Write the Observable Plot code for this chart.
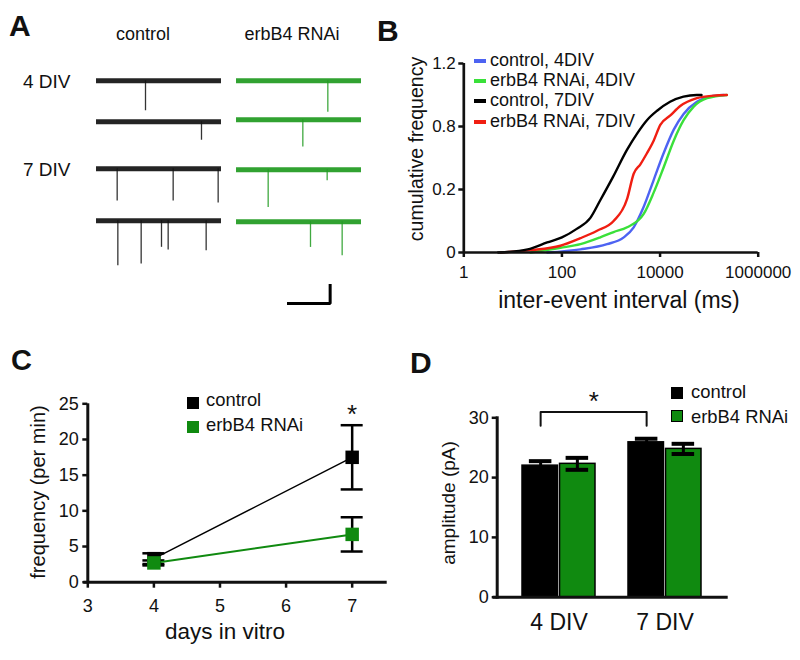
<!DOCTYPE html>
<html><head><meta charset="utf-8">
<script src="https://cdn.jsdelivr.net/npm/d3@7"></script>
<script src="https://cdn.jsdelivr.net/npm/@observablehq/plot@0.6"></script>
<style>
body{margin:0;background:#fff;}
#fig{position:relative;width:800px;height:660px;overflow:hidden;background:#fff;font-family:"Liberation Sans",Arial,Helvetica,sans-serif;color:#111;}
.t{position:absolute;white-space:nowrap;line-height:1;}
.sw{position:absolute;}
</style></head><body><div id="fig"></div>
<script>
// ================= DATA =================
// Panel A: example traces (events: [time in ms, amplitude in pA])
const aConditions = ["control", "erbB4 RNAi"];
const aRowLabels = ["4 DIV", "7 DIV"];
const aTraceMs = 1500;
const aControlEvents = [
  [[588, 16.7]],
  [[1260, 10.3]],
  [[248, 18], [920, 18], [1460, 19]],
  [[256, 25], [536, 24], [780, 14.8], [860, 16.3], [1316, 16.7]]
];
const aRnaiEvents = [
  [[1096, 17.6]],
  [[796, 15.2]],
  [[380, 21], [1088, 6.1]],
  [[888, 14.3], [1268, 18.9]]
];
const aScaleBarMs = 500, aScaleBarPA = 10;

// Panel B: cumulative distributions of inter-event interval
const bSeries = ["control, 4DIV", "erbB4 RNAi, 4DIV", "control, 7DIV", "erbB4 RNAi, 7DIV"];
const bControl4Ms  = [50, 238, 830, 1820, 2900, 4640, 7400, 11800, 19000, 30200, 56400, 105000, 200000];
const bControl4Cum = [0, 0.02, 0.053, 0.096, 0.16, 0.29, 0.46, 0.63, 0.78, 0.88, 0.957, 0.99, 1.0];
const bRnai4Ms  = [23, 93, 238, 605, 1130, 2130, 4640, 7400, 11800, 19000, 30200, 48000, 91000, 230000];
const bRnai4Cum = [0, 0.03, 0.053, 0.096, 0.13, 0.16, 0.245, 0.38, 0.54, 0.71, 0.84, 0.925, 0.98, 1.0];
const bControl7Ms  = [5, 20, 50, 100, 200, 380, 600, 1100, 2100, 3400, 5400, 8700, 16000, 30000, 56000, 70000];
const bControl7Cum = [0, 0.02, 0.064, 0.096, 0.15, 0.22, 0.33, 0.48, 0.65, 0.755, 0.84, 0.90, 0.957, 0.99, 1.0, 1.0];
const bRnai7Ms  = [5.6, 23, 93, 238, 520, 1130, 2130, 2900, 3970, 5400, 7400, 10100, 16200, 25800, 56400, 123000, 230000];
const bRnai7Cum = [0, 0.015, 0.043, 0.091, 0.138, 0.2, 0.34, 0.5, 0.56, 0.63, 0.71, 0.81, 0.87, 0.93, 0.98, 0.996, 1.0];
const bXTicks = [1, 100, 10000, 1000000];
const bYTicks = [0, 0.4, 0.8, 1.2];
const bYTickLabels = ["0", "0.2", "0.8", "1.2"];

// Panel C: frequency vs days in vitro (mean ± SEM)
const cDays = [4, 7];
const cControlMean = [3.3, 17.5];
const cControlSem  = [0.75, 4.5];
const cRnaiMean = [2.7, 6.7];
const cRnaiSem  = [0.35, 2.4];
const cXTicks = [3, 4, 5, 6, 7];
const cYTicks = [0, 5, 10, 15, 20, 25];
const cSignificantDay = 7;

// Panel D: amplitude (mean ± SEM)
const dGroups = ["4 DIV", "7 DIV"];
const dControlMean = [22.0, 25.9];
const dControlSem  = [0.75, 0.6];
const dRnaiMean = [22.3, 24.8];
const dRnaiSem  = [1.0, 0.85];
const dYTicks = [0, 10, 20, 30];

const conditions = ["control", "erbB4 RNAi"];

// ================= STYLE =================
const FONT = '"Liberation Sans", Arial, Helvetica, sans-serif';
const bColors = ["#4d63f2", "#3ae03a", "#000000", "#f01e12"];
const BLACK = "#000";
const GREEN = "#108a10";
const TRACE_GREEN = "#1f9a1f";

const fig = document.getElementById("fig");
function place(el, left, top) {
  el.style.position = "absolute";
  el.style.left = left + "px";
  el.style.top = top + "px";
  fig.appendChild(el);
  return el;
}
function label(str, x, y, {size = 18, weight = "normal", anchor = "start", rotate = 0} = {}) {
  const s = document.createElement("div");
  s.className = "t";
  s.textContent = str;
  s.style.fontSize = size + "px";
  s.style.fontWeight = weight;
  s.style.left = x + "px";
  s.style.top = y + "px";
  const tx = anchor === "middle" ? "-50%" : anchor === "end" ? "-100%" : "0";
  s.style.transform = `translate(${tx},-50%)` + (rotate ? ` rotate(${rotate}deg)` : "");
  fig.appendChild(s);
  return s;
}
function swatch(x, y, w, h, color, border) {
  const d = document.createElement("div");
  d.className = "sw";
  d.style.left = x + "px"; d.style.top = y + "px";
  d.style.width = w + "px"; d.style.height = h + "px";
  d.style.background = color;
  d.style.boxSizing = "border-box";
  if (border) d.style.border = border;
  fig.appendChild(d);
}
const baseStyle = (size) => ({fontFamily: FONT, fontSize: size + "px", color: "#111", background: "transparent", overflow: "visible"});

// ================= PANEL A =================
const aPxPerMs = 125 / aTraceMs, aPxPerPA = 1.8;
const aColLeft = [96, 236];
const aBaselines = [[80, 120.7, 167.7, 220], [80, 119.3, 169, 221]];
function tracePlot(events, color, left, baseline) {
  const topPA = 4, botPA = 30;
  const rows = events.map(([t, amp]) => ({t, amp}));
  const svg = Plot.plot({
    width: 125 + 4, height: (topPA + botPA) * aPxPerPA,
    marginLeft: 2, marginRight: 2, marginTop: 0, marginBottom: 0,
    x: {domain: [0, aTraceMs], axis: null},
    y: {domain: [-botPA, topPA], axis: null},
    style: baseStyle(12),
    marks: [
      Plot.ruleX(rows, {x: "t", y1: () => 0, y2: d => -d.amp, stroke: color, strokeWidth: 1.3, strokeOpacity: 0.85}),
      Plot.ruleY([0], {stroke: color, strokeWidth: 5, strokeOpacity: 0.92})
    ]
  });
  place(svg, left - 2, baseline - topPA * aPxPerPA);
}
aControlEvents.forEach((ev, i) => tracePlot(ev, "#111", aColLeft[0], aBaselines[0][i]));
aRnaiEvents.forEach((ev, i) => tracePlot(ev, TRACE_GREEN, aColLeft[1], aBaselines[1][i]));
{
  const sb = [{t: 0, i: 0}, {t: aScaleBarMs, i: 0}, {t: aScaleBarMs, i: aScaleBarPA}];
  const svg = Plot.plot({
    width: aScaleBarMs * aPxPerMs + 4, height: aScaleBarPA * aPxPerPA + 4,
    marginLeft: 2, marginRight: 2, marginTop: 2, marginBottom: 2,
    x: {domain: [0, aScaleBarMs], axis: null},
    y: {domain: [0, aScaleBarPA], axis: null},
    style: baseStyle(12),
    marks: [Plot.line(sb, {x: "t", y: "i", stroke: "#000", strokeWidth: 3, strokeLinejoin: "miter", strokeLinecap: "square"})]
  });
  place(svg, 288.3 - 2, 285 - 2);
}
label("A", 9, 26.3, {size: 30, weight: "bold"});
label(aConditions[0], 143, 33.8, {size: 18, anchor: "middle"});
label(aConditions[1], 292, 33.8, {size: 18, anchor: "middle"});
label(aRowLabels[0], 23, 80.7, {size: 19});
label(aRowLabels[1], 23, 169.4, {size: 19});

// ================= PANEL B =================
{
  const seriesData = [
    [bControl4Ms, bControl4Cum], [bRnai4Ms, bRnai4Cum], [bControl7Ms, bControl7Cum], [bRnai7Ms, bRnai7Cum]
  ].map(([ms, cum], k) => ms.map((m, i) => ({series: bSeries[k], interval: m, cum: cum[i]})));
  const drawOrder = [0, 1, 3, 2];
  const svg = Plot.plot({
    width: 420, height: 320,
    marginLeft: 83.3, marginRight: 42.3, marginTop: 63, marginBottom: 68,
    x: {type: "log", domain: [1, 1e6]},
    y: {domain: [0, 1.2]},
    color: {domain: bSeries, range: bColors},
    style: baseStyle(17),
    marks: [
      ...drawOrder.map(k => Plot.line(seriesData[k], {x: "interval", y: "cum", stroke: "series", strokeWidth: 2.4, curve: "monotone-x"})),
      Plot.ruleY([0], {strokeWidth: 2.7}),
      Plot.ruleX([1], {strokeWidth: 2.7}),
      Plot.axisX({ticks: bXTicks, tickFormat: d => String(d), tickSize: 5, tickPadding: 8, strokeWidth: 2.5, label: null}),
      Plot.axisY({ticks: bYTicks, tickFormat: d => bYTickLabels[bYTicks.indexOf(d)], tickSize: 5, tickPadding: 3, strokeWidth: 2.5, label: null})
    ]
  });
  place(svg, 380, 0);
  label("B", 377, 31.3, {size: 30, weight: "bold"});
  label("cumulative frequency", 416.7, 149, {size: 19.5, anchor: "middle", rotate: -90});
  label("inter-event interval (ms)", 619, 300.3, {size: 23, anchor: "middle"});
  const ly = [61, 80.5, 101, 121.8];
  bSeries.forEach((s, k) => {
    swatch(474, ly[k] - 2, 12, 4, bColors[k]);
    label(s, 490, ly[k] - 1, {size: 18});
  });
}

// ================= PANEL C =================
{
  const rows = (mean, sem, cond) => cDays.map((d, i) => ({day: d, cond, mean: mean[i], lo: mean[i] - sem[i], hi: mean[i] + sem[i]}));
  const ctrl = rows(cControlMean, cControlSem, conditions[0]);
  const rnai = rows(cRnaiMean, cRnaiSem, conditions[1]);
  const errMarks = (data, color) => [
    Plot.ruleX(data, {x: "day", y1: "lo", y2: "hi", stroke: color, strokeWidth: 2.5}),
    Plot.ruleY(data, {x1: "day", x2: "day", y: "hi", stroke: color, strokeWidth: 2.5, insetLeft: -11, insetRight: -11}),
    Plot.ruleY(data, {x1: "day", x2: "day", y: "lo", stroke: color, strokeWidth: 2.5, insetLeft: -11, insetRight: -11})
  ];
  const svg = Plot.plot({
    width: 400, height: 340,
    marginLeft: 87.3, marginRight: 13.3, marginTop: 83.3, marginBottom: 78.3,
    x: {domain: [3, 7.53]},
    y: {domain: [0, 25]},
    style: baseStyle(18),
    marks: [
      ...errMarks(ctrl, BLACK),
      ...errMarks(rnai, BLACK),
      Plot.line(ctrl, {x: "day", y: "mean", stroke: BLACK, strokeWidth: 1.5}),
      Plot.line(rnai, {x: "day", y: "mean", stroke: GREEN, strokeWidth: 2}),
      Plot.dot(ctrl, {x: "day", y: "mean", symbol: "square", r: 7.6, fill: BLACK, stroke: "none"}),
      Plot.dot(rnai, {x: "day", y: "mean", symbol: "square", r: 7.6, fill: GREEN, stroke: "none"}),
      Plot.text(ctrl.filter(d => d.day === cSignificantDay), {x: "day", y: "hi", text: () => "*", fontSize: 26, dy: -10.5}),
      Plot.ruleY([0], {strokeWidth: 3, insetLeft: -4}),
      Plot.ruleX([3], {strokeWidth: 3}),
      Plot.axisX({ticks: cXTicks, tickFormat: d => String(d), tickSize: 6, tickPadding: 11, strokeWidth: 2.5, label: null}),
      Plot.axisY({ticks: cYTicks, tickFormat: d => String(d), tickSize: 5, tickPadding: 4, strokeWidth: 2.5, label: null})
    ]
  });
  place(svg, 0, 320);
  label("C", 11, 359.6, {size: 29, weight: "bold"});
  label("frequency (per min)", 38.3, 492, {size: 20, anchor: "middle", rotate: -90});
  label("days in vitro", 225, 632, {size: 22.5, anchor: "middle"});
  swatch(186.5, 397, 12.5, 12, BLACK);
  swatch(186.5, 421, 12.5, 12, GREEN);
  label(conditions[0], 206, 400.3, {size: 18.4});
  label(conditions[1], 206, 425.3, {size: 18.4});
}

// ================= PANEL D =================
{
  const rows = (mean, sem, cond) => dGroups.map((g, i) => ({div: g, cond, mean: mean[i], lo: mean[i] - sem[i], hi: mean[i] + sem[i]}));
  const ctrl = rows(dControlMean, dControlSem, conditions[0]);
  const rnai = rows(dRnaiMean, dRnaiSem, conditions[1]);
  const W = 400, ML = 96.7, MR = 73.3, PI = 0.31, PO = 0.235;
  const step = (W - ML - MR) / (dGroups.length - PI + 2 * PO);
  const bw = step * (1 - PI), half = bw / 2, off = bw / 4;
  const capHalf = 11.5;
  const bracketTop = d3.max(ctrl, d => d.hi) + 4.45, bracketLeg = 2.3;
  const bracket = [
    {div: dGroups[0], y: bracketTop - bracketLeg}, {div: dGroups[0], y: bracketTop},
    {div: dGroups[1], y: bracketTop}, {div: dGroups[1], y: bracketTop - bracketLeg}
  ];
  const errMarks = (data, center) => [
    Plot.ruleX(data, {x: "div", y1: "lo", y2: "hi", dx: center, stroke: BLACK, strokeWidth: 3}),
    Plot.tickY(data, {x: "div", y: "hi", stroke: BLACK, strokeWidth: 4, insetLeft: half + center - capHalf, insetRight: half - center - capHalf}),
    Plot.tickY(data, {x: "div", y: "lo", stroke: BLACK, strokeWidth: 4, insetLeft: half + center - capHalf, insetRight: half - center - capHalf})
  ];
  const svg = Plot.plot({
    width: W, height: 340,
    marginLeft: ML, marginRight: MR, marginTop: 97.3, marginBottom: 63.3,
    x: {domain: dGroups, paddingInner: PI, paddingOuter: PO, axis: null},
    y: {domain: [0, 30]},
    style: baseStyle(18),
    marks: [
      Plot.barY(ctrl, {x: "div", y: "mean", fill: BLACK, stroke: BLACK, strokeWidth: 1.5, insetRight: half + 0.8}),
      Plot.barY(rnai, {x: "div", y: "mean", fill: GREEN, stroke: BLACK, strokeWidth: 1.5, insetLeft: half + 0.8}),
      ...errMarks(ctrl, -off),
      ...errMarks(rnai, off),
      Plot.line(bracket, {x: "div", y: "y", dx: -off, stroke: "#111", strokeWidth: 2}),
      Plot.text([dGroups[0]], {x: d => d, y: () => bracketTop, dx: step / 2 - off, dy: -10, text: () => "*", fontSize: 26}),
      Plot.ruleY([0], {strokeWidth: 3, insetLeft: -4, insetRight: -1}),
      Plot.frame({anchor: "left", strokeWidth: 3}),
      Plot.axisY({ticks: dYTicks, tickFormat: d => String(d), tickSize: 5, tickPadding: 3.5, strokeWidth: 2.5, label: null}),
      Plot.text(dGroups, {x: d => d, frameAnchor: "bottom", lineAnchor: "top", dy: 16, fontSize: 23})
    ]
  });
  place(svg, 400, 320);
  label("D", 410, 362.6, {size: 30, weight: "bold"});
  label("amplitude (pA)", 448.3, 502.5, {size: 19, anchor: "middle", rotate: -90});
  swatch(670.5, 387, 12, 12, BLACK, "1px solid #000");
  swatch(670.5, 410, 12, 12, GREEN, "1.5px solid #000");
  label(conditions[0], 691, 392, {size: 18.4});
  label(conditions[1], 691, 417, {size: 18.4});
}
</script></body></html>
